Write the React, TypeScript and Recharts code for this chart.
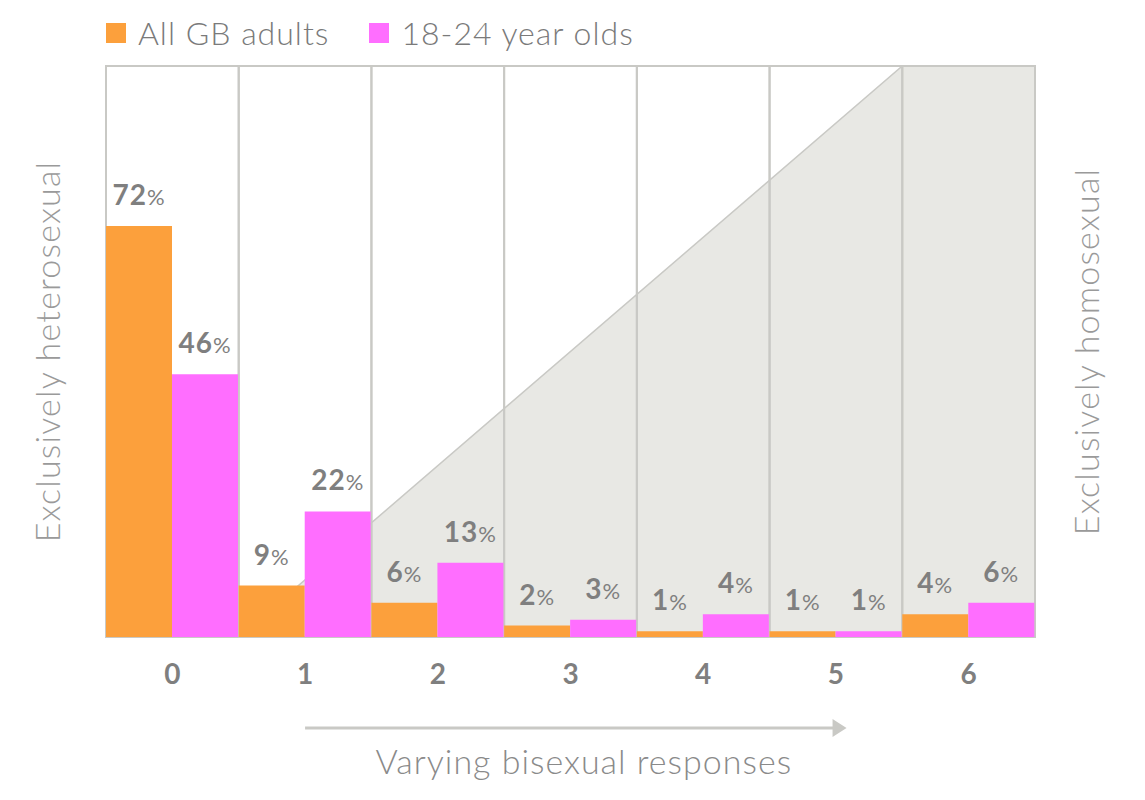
import { BarChart, Bar, XAxis, YAxis, ReferenceArea, LabelList, Legend } from "recharts";

const categories = ["0", "1", "2", "3", "4", "5", "6"];
const allAdults = [72, 9, 6, 2, 1, 1, 4];
const youngAdults = [46, 22, 13, 3, 4, 1, 6];
const seriesNames = ["All GB adults", "18-24 year olds"];

const ORANGE = "#fca03c";
const PINK = "#ff6eff";
const GRID = "#c9c9c5";
const SHADE = "#e8e8e4";
const FONT = "Lato, 'Open Sans', sans-serif";

const rows = categories.map((cat, i) => ({
  cat,
  adults: allAdults[i],
  young: youngAdults[i],
}));

// value label: bold number + lighter "%"
const PctLabel = (props: any) => {
  const { x, y, width, value } = props;
  return (
    <text
      x={x + width / 2}
      y={y - 21}
      textAnchor="middle"
      fill="#7f7f7f"
      fontFamily={FONT}
      letterSpacing={1}
    >
      <tspan fontSize={28} fontWeight={700}>{value}</tspan>
      <tspan fontSize={22} fontWeight={400}>%</tspan>
    </text>
  );
};

const CatTick = (props: any) => {
  const { x, y, payload } = props;
  return (
    <text x={x} y={y + 39} textAnchor="middle" fill="#7f7f7f" fontFamily={FONT} fontSize={28} fontWeight={700}>
      {payload.value}
    </text>
  );
};

// arrow + axis title under the ticks
const ArrowTitle = (props: any) => {
  const { viewBox } = props;
  const { x, y, width } = viewBox;
  const band = width / categories.length;
  const x0 = x + band * 1.5;
  const x1 = x + band * 5.58;
  const ay = y + 91;
  return (
    <g>
      <line x1={x0} y1={ay} x2={x1 - 12} y2={ay} stroke={GRID} strokeWidth={3} />
      <polygon points={`${x1 - 14},${ay - 9} ${x1},${ay} ${x1 - 14},${ay + 9}`} fill={GRID} />
      <text x={x + band * 3.6} y={ay + 46} textAnchor="middle" fill="#8a8a8a" fontFamily={FONT} fontSize={34} fontWeight={300} letterSpacing={1}>
        Varying bisexual responses
      </text>
    </g>
  );
};

const SideTitle = (text: string, side: "left" | "right") => (props: any) => {
  const { viewBox } = props;
  const cx = side === "left" ? viewBox.x + viewBox.width - 60 : viewBox.x + 50;
  const cy = viewBox.y + viewBox.height / 2;
  return (
    <text
      x={cx}
      y={cy}
      transform={`rotate(-90 ${cx} ${cy})`}
      textAnchor="middle"
      dominantBaseline="central"
      fill="#9a9a9a"
      fontFamily={FONT}
      fontSize={34}
      fontWeight={300}
      letterSpacing={1.2}
    >
      {text}
    </text>
  );
};

// shaded region: diagonal from start of band 1 up to start of band 6, then full band 6
const Wedge = (props: any) => {
  const { x, y, width, height } = props;
  const band = width / 6;
  return (
    <polygon
      points={`${x},${y + height} ${x + width - band},${y} ${x + width},${y} ${x + width},${y + height}`}
      fill={SHADE}
      stroke={GRID}
      strokeWidth={1.5}
    />
  );
};

const LegendBox = () => (
  <div style={{ display: "flex", alignItems: "center", fontFamily: FONT, fontWeight: 300, fontSize: 32, letterSpacing: 1, color: "#7a7a7a" }}>
    {seriesNames.map((n, i) => (
      <div key={n} style={{ display: "flex", alignItems: "center", marginRight: 40 }}>
        <span style={{ width: 20, height: 20, background: i === 0 ? ORANGE : PINK, marginRight: 12, display: "inline-block" }} />
        <span>{n}</span>
      </div>
    ))}
  </div>
);

export default function App() {
  return (
    <BarChart
      width={1130}
      height={790}
      data={rows}
      margin={{ top: 58, right: 43, bottom: 31, left: 38 }}
      barCategoryGap={0}
      barGap={0}
    >
      <XAxis
        dataKey="cat"
        axisLine={false}
        tickLine={false}
        interval={0}
        height={130}
        tick={<CatTick />}
        label={{ content: <ArrowTitle /> }}
      />
      <YAxis
        yAxisId="left"
        domain={[0, 100]}
        width={60}
        tick={false}
        axisLine={false}
        tickLine={false}
        label={{ content: SideTitle("Exclusively heterosexual", "left") }}
      />
      <YAxis
        yAxisId="right"
        orientation="right"
        domain={[0, 100]}
        width={60}
        tick={false}
        axisLine={false}
        tickLine={false}
        label={{ content: SideTitle("Exclusively homosexual", "right") }}
      />
      <ReferenceArea yAxisId="left" x1="1" x2="6" shape={<Wedge />} />
      {categories.map((c) => (
        <ReferenceArea key={c} yAxisId="left" x1={c} x2={c} fill="none" stroke={GRID} strokeWidth={2} fillOpacity={0} />
      ))}
      <Legend
        verticalAlign="middle"
        align="center"
        wrapperStyle={{ top: 5, left: 98, width: 700 }}
        content={<LegendBox />}
      />
      <Bar yAxisId="left" dataKey="adults" name={seriesNames[0]} fill={ORANGE} isAnimationActive={false}>
        <LabelList dataKey="adults" content={<PctLabel />} />
      </Bar>
      <Bar yAxisId="left" dataKey="young" name={seriesNames[1]} fill={PINK} isAnimationActive={false}>
        <LabelList dataKey="young" content={<PctLabel />} />
      </Bar>
    </BarChart>
  );
}
